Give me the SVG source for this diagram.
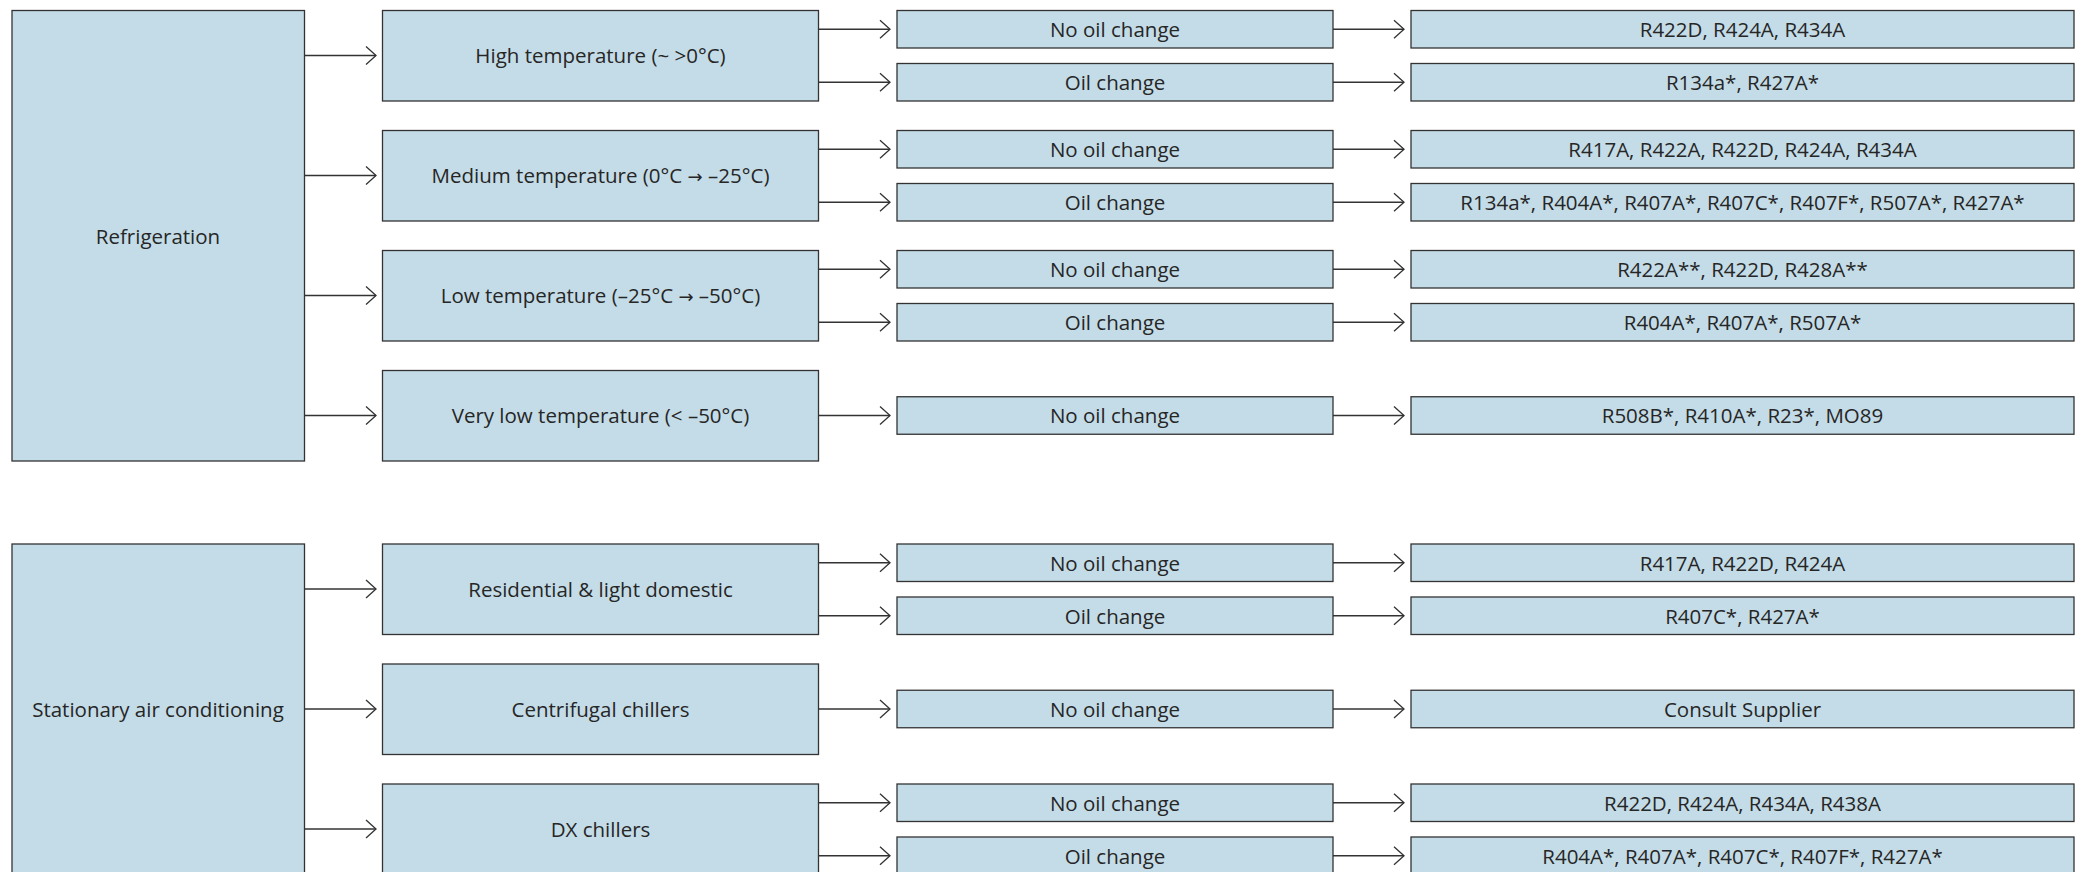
<svg xmlns="http://www.w3.org/2000/svg" width="2078" height="872" viewBox="0 0 2078 872">
<style>
.b{fill:#c4dce7;stroke:#333;stroke-width:1.3}
.t{font-family:"Open Sans","Noto Sans",sans-serif;font-size:20.5px;fill:#262626;text-anchor:middle}
.ar{font-family:"DejaVu Sans",sans-serif;font-size:18px}
.c{fill:none;stroke:#333;stroke-width:1.3;marker-end:url(#arr)}
</style>
<defs>
<marker id="arr" markerUnits="userSpaceOnUse" markerWidth="14" markerHeight="22" refX="11" refY="10" orient="auto" viewBox="0 0 14 22">
<path d="M1,1 L11,10 L1,19" fill="none" stroke="#333" stroke-width="1.3"/>
</marker>
</defs>
<rect width="2078" height="872" fill="#fff"/>
<g id="connectors">
<line class="c" x1="304.5" y1="55.5" x2="376" y2="55.5"/>
<line class="c" x1="304.5" y1="175.5" x2="376" y2="175.5"/>
<line class="c" x1="304.5" y1="295.5" x2="376" y2="295.5"/>
<line class="c" x1="304.5" y1="415.5" x2="376" y2="415.5"/>
<line class="c" x1="818.5" y1="29.25" x2="890" y2="29.25"/>
<line class="c" x1="818.5" y1="82.25" x2="890" y2="82.25"/>
<line class="c" x1="818.5" y1="149.25" x2="890" y2="149.25"/>
<line class="c" x1="818.5" y1="202.25" x2="890" y2="202.25"/>
<line class="c" x1="818.5" y1="269.25" x2="890" y2="269.25"/>
<line class="c" x1="818.5" y1="322.25" x2="890" y2="322.25"/>
<line class="c" x1="818.5" y1="415.5" x2="890" y2="415.5"/>
<line class="c" x1="1333" y1="29.25" x2="1404" y2="29.25"/>
<line class="c" x1="1333" y1="82.25" x2="1404" y2="82.25"/>
<line class="c" x1="1333" y1="149.25" x2="1404" y2="149.25"/>
<line class="c" x1="1333" y1="202.25" x2="1404" y2="202.25"/>
<line class="c" x1="1333" y1="269.25" x2="1404" y2="269.25"/>
<line class="c" x1="1333" y1="322.25" x2="1404" y2="322.25"/>
<line class="c" x1="1333" y1="415.5" x2="1404" y2="415.5"/>
<line class="c" x1="304.5" y1="589" x2="376" y2="589"/>
<line class="c" x1="304.5" y1="709" x2="376" y2="709"/>
<line class="c" x1="304.5" y1="829" x2="376" y2="829"/>
<line class="c" x1="818.5" y1="562.75" x2="890" y2="562.75"/>
<line class="c" x1="818.5" y1="615.75" x2="890" y2="615.75"/>
<line class="c" x1="818.5" y1="709" x2="890" y2="709"/>
<line class="c" x1="818.5" y1="802.75" x2="890" y2="802.75"/>
<line class="c" x1="818.5" y1="855.75" x2="890" y2="855.75"/>
<line class="c" x1="1333" y1="562.75" x2="1404" y2="562.75"/>
<line class="c" x1="1333" y1="615.75" x2="1404" y2="615.75"/>
<line class="c" x1="1333" y1="709" x2="1404" y2="709"/>
<line class="c" x1="1333" y1="802.75" x2="1404" y2="802.75"/>
<line class="c" x1="1333" y1="855.75" x2="1404" y2="855.75"/>
</g>

<g id="refrigeration"><rect class="b" x="12" y="10.5" width="292.5" height="450.5"/><text class="t" x="158" y="244">Refrigeration</text></g>

<g id="high-temp"><rect class="b" x="382.5" y="10.5" width="436" height="90.5"/><text class="t" x="600.5" y="63">High temperature (~ &gt;0°C)</text></g>
<g id="high-nooil"><rect class="b" x="897" y="10.5" width="436" height="37.5"/><text class="t" x="1115" y="37">No oil change</text></g>
<g id="high-oil"><rect class="b" x="897" y="63.5" width="436" height="37.5"/><text class="t" x="1115" y="90">Oil change</text></g>
<g id="high-nooil-ref"><rect class="b" x="1411" y="10.5" width="663" height="37.5"/><text class="t" x="1742.5" y="37">R422D, R424A, R434A</text></g>
<g id="high-oil-ref"><rect class="b" x="1411" y="63.5" width="663" height="37.5"/><text class="t" x="1742.5" y="90">R134a*, R427A*</text></g>

<g id="med-temp"><rect class="b" x="382.5" y="130.5" width="436" height="90.5"/><text class="t" x="600.5" y="183">Medium temperature (0°C <tspan class="ar">→</tspan> –25°C)</text></g>
<g id="med-nooil"><rect class="b" x="897" y="130.5" width="436" height="37.5"/><text class="t" x="1115" y="157">No oil change</text></g>
<g id="med-oil"><rect class="b" x="897" y="183.5" width="436" height="37.5"/><text class="t" x="1115" y="210">Oil change</text></g>
<g id="med-nooil-ref"><rect class="b" x="1411" y="130.5" width="663" height="37.5"/><text class="t" x="1742.5" y="157">R417A, R422A, R422D, R424A, R434A</text></g>
<g id="med-oil-ref"><rect class="b" x="1411" y="183.5" width="663" height="37.5"/><text class="t" x="1742.5" y="210">R134a*, R404A*, R407A*, R407C*, R407F*, R507A*, R427A*</text></g>

<g id="low-temp"><rect class="b" x="382.5" y="250.5" width="436" height="90.5"/><text class="t" x="600.5" y="303">Low temperature (–25°C <tspan class="ar">→</tspan> –50°C)</text></g>
<g id="low-nooil"><rect class="b" x="897" y="250.5" width="436" height="37.5"/><text class="t" x="1115" y="277">No oil change</text></g>
<g id="low-oil"><rect class="b" x="897" y="303.5" width="436" height="37.5"/><text class="t" x="1115" y="330">Oil change</text></g>
<g id="low-nooil-ref"><rect class="b" x="1411" y="250.5" width="663" height="37.5"/><text class="t" x="1742.5" y="277">R422A**, R422D, R428A**</text></g>
<g id="low-oil-ref"><rect class="b" x="1411" y="303.5" width="663" height="37.5"/><text class="t" x="1742.5" y="330">R404A*, R407A*, R507A*</text></g>

<g id="vlow-temp"><rect class="b" x="382.5" y="370.5" width="436" height="90.5"/><text class="t" x="600.5" y="423">Very low temperature (&lt; –50°C)</text></g>
<g id="vlow-nooil"><rect class="b" x="897" y="396.75" width="436" height="37.5"/><text class="t" x="1115" y="423">No oil change</text></g>
<g id="vlow-nooil-ref"><rect class="b" x="1411" y="396.75" width="663" height="37.5"/><text class="t" x="1742.5" y="423">R508B*, R410A*, R23*, MO89</text></g>

<g id="stationary-ac"><rect class="b" x="12" y="544" width="292.5" height="330"/><text class="t" x="158" y="716.5">Stationary air conditioning</text></g>

<g id="residential"><rect class="b" x="382.5" y="544" width="436" height="90.5"/><text class="t" x="600.5" y="596.5">Residential &amp; light domestic</text></g>
<g id="res-nooil"><rect class="b" x="897" y="544" width="436" height="37.5"/><text class="t" x="1115" y="570.5">No oil change</text></g>
<g id="res-oil"><rect class="b" x="897" y="597" width="436" height="37.5"/><text class="t" x="1115" y="623.5">Oil change</text></g>
<g id="res-nooil-ref"><rect class="b" x="1411" y="544" width="663" height="37.5"/><text class="t" x="1742.5" y="570.5">R417A, R422D, R424A</text></g>
<g id="res-oil-ref"><rect class="b" x="1411" y="597" width="663" height="37.5"/><text class="t" x="1742.5" y="623.5">R407C*, R427A*</text></g>

<g id="centrifugal"><rect class="b" x="382.5" y="664" width="436" height="90.5"/><text class="t" x="600.5" y="716.5">Centrifugal chillers</text></g>
<g id="cen-nooil"><rect class="b" x="897" y="690.25" width="436" height="37.5"/><text class="t" x="1115" y="716.5">No oil change</text></g>
<g id="cen-nooil-ref"><rect class="b" x="1411" y="690.25" width="663" height="37.5"/><text class="t" x="1742.5" y="716.5">Consult Supplier</text></g>

<g id="dx"><rect class="b" x="382.5" y="784" width="436" height="90.5"/><text class="t" x="600.5" y="836.5">DX chillers</text></g>
<g id="dx-nooil"><rect class="b" x="897" y="784" width="436" height="37.5"/><text class="t" x="1115" y="810.5">No oil change</text></g>
<g id="dx-oil"><rect class="b" x="897" y="837" width="436" height="37.5"/><text class="t" x="1115" y="863.5">Oil change</text></g>
<g id="dx-nooil-ref"><rect class="b" x="1411" y="784" width="663" height="37.5"/><text class="t" x="1742.5" y="810.5">R422D, R424A, R434A, R438A</text></g>
<g id="dx-oil-ref"><rect class="b" x="1411" y="837" width="663" height="37.5"/><text class="t" x="1742.5" y="863.5">R404A*, R407A*, R407C*, R407F*, R427A*</text></g>
</svg>
